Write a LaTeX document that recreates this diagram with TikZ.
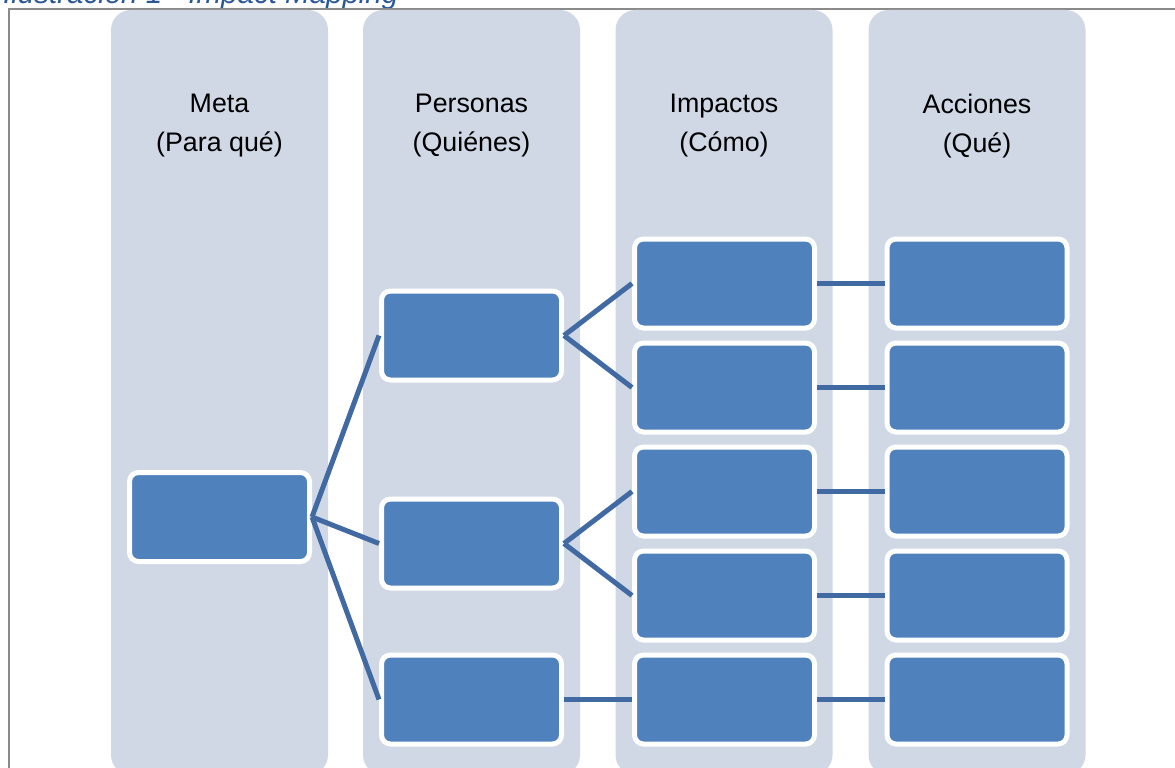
\documentclass[tikz,border=0pt]{standalone}
\usepackage{fontspec}
\setmainfont{Liberation Sans}
\definecolor{panelfill}{HTML}{D0D8E6}
\definecolor{boxfill}{HTML}{4F81BD}
\definecolor{linkblue}{RGB}{65,106,162}
\definecolor{captionblue}{HTML}{2B5797}
\definecolor{framegray}{HTML}{8A8A8A}
\begin{document}
\begin{tikzpicture}[x=1pt,y=-1pt,
  panel/.style={fill=panelfill, rounded corners=20pt, minimum width=217pt,
    minimum height=765pt, inner sep=0pt},
  itembox/.style={draw=white, line width=5pt, fill=boxfill, rounded corners=9pt,
    minimum width=180pt, minimum height=89pt, inner sep=0pt},
  link/.style={draw=linkblue, line width=5pt},
  heading/.style={align=center, font=\fontsize{26.8}{39}\selectfont, text=black,
    inner sep=0pt}
]
\useasboundingbox (0,0) rectangle (1175,768);
\clip (0,0) rectangle (1175,768);

% caption, cut by the top edge
\node[anchor=base west, inner sep=0pt, text=captionblue,
  font=\fontsize{29.5}{34}\selectfont\itshape] (caption) at (3,4)
  {Ilustración 1 - Impact Mapping};

% frame
\coordinate (fbl) at (9,768);
\coordinate (ftl) at (9,9);
\coordinate (ftr) at (1175,9);
\draw[framegray, line width=1.5pt] (fbl) -- (ftl) -- (ftr);

% column panels
\node[panel] (pmeta) at (219.5,392.5) {};
\node[panel] (ppers) at (471.5,392.5) {};
\node[panel] (pimp)  at (724,392.5) {};
\node[panel] (pacc)  at (977,392.5) {};

% column headings
\node[heading] (hmeta) at (219.5,126) {Meta\\(Para qué)};
\node[heading] (hpers) at (471.5,126) {Personas\\(Quiénes)};
\node[heading] (himp)  at (724,126) {Impactos\\(Cómo)};
\node[heading] (hacc)  at (977,126) {Acciones\\(Qué)};

% goal
\node[itembox] (m) at (219.5,517) {};

% actors
\node[itembox] (p1) at (471.5,335.5) {};
\node[itembox] (p2) at (471.5,543.5) {};
\node[itembox] (p3) at (471.5,699.5) {};

% impacts and deliverables
\foreach \i/\y in {1/283.5, 2/387.5, 3/491.5, 4/595.5, 5/699.5} {
  \node[itembox] (i\i) at (724.5,\y) {};
  \node[itembox] (a\i) at (977,\y) {};
}

% connectors
\draw[link] (m.east) -- (p1.west);
\draw[link] (m.east) -- (p2.west);
\draw[link] (m.east) -- (p3.west);
\draw[link] (p1.east) -- (i1.west);
\draw[link] (p1.east) -- (i2.west);
\draw[link] (p2.east) -- (i3.west);
\draw[link] (p2.east) -- (i4.west);
\draw[link] (p3.east) -- (i5.west);
\foreach \i in {1,...,5} {
  \draw[link] (i\i.east) -- (a\i.west);
}
\end{tikzpicture}
\end{document}
